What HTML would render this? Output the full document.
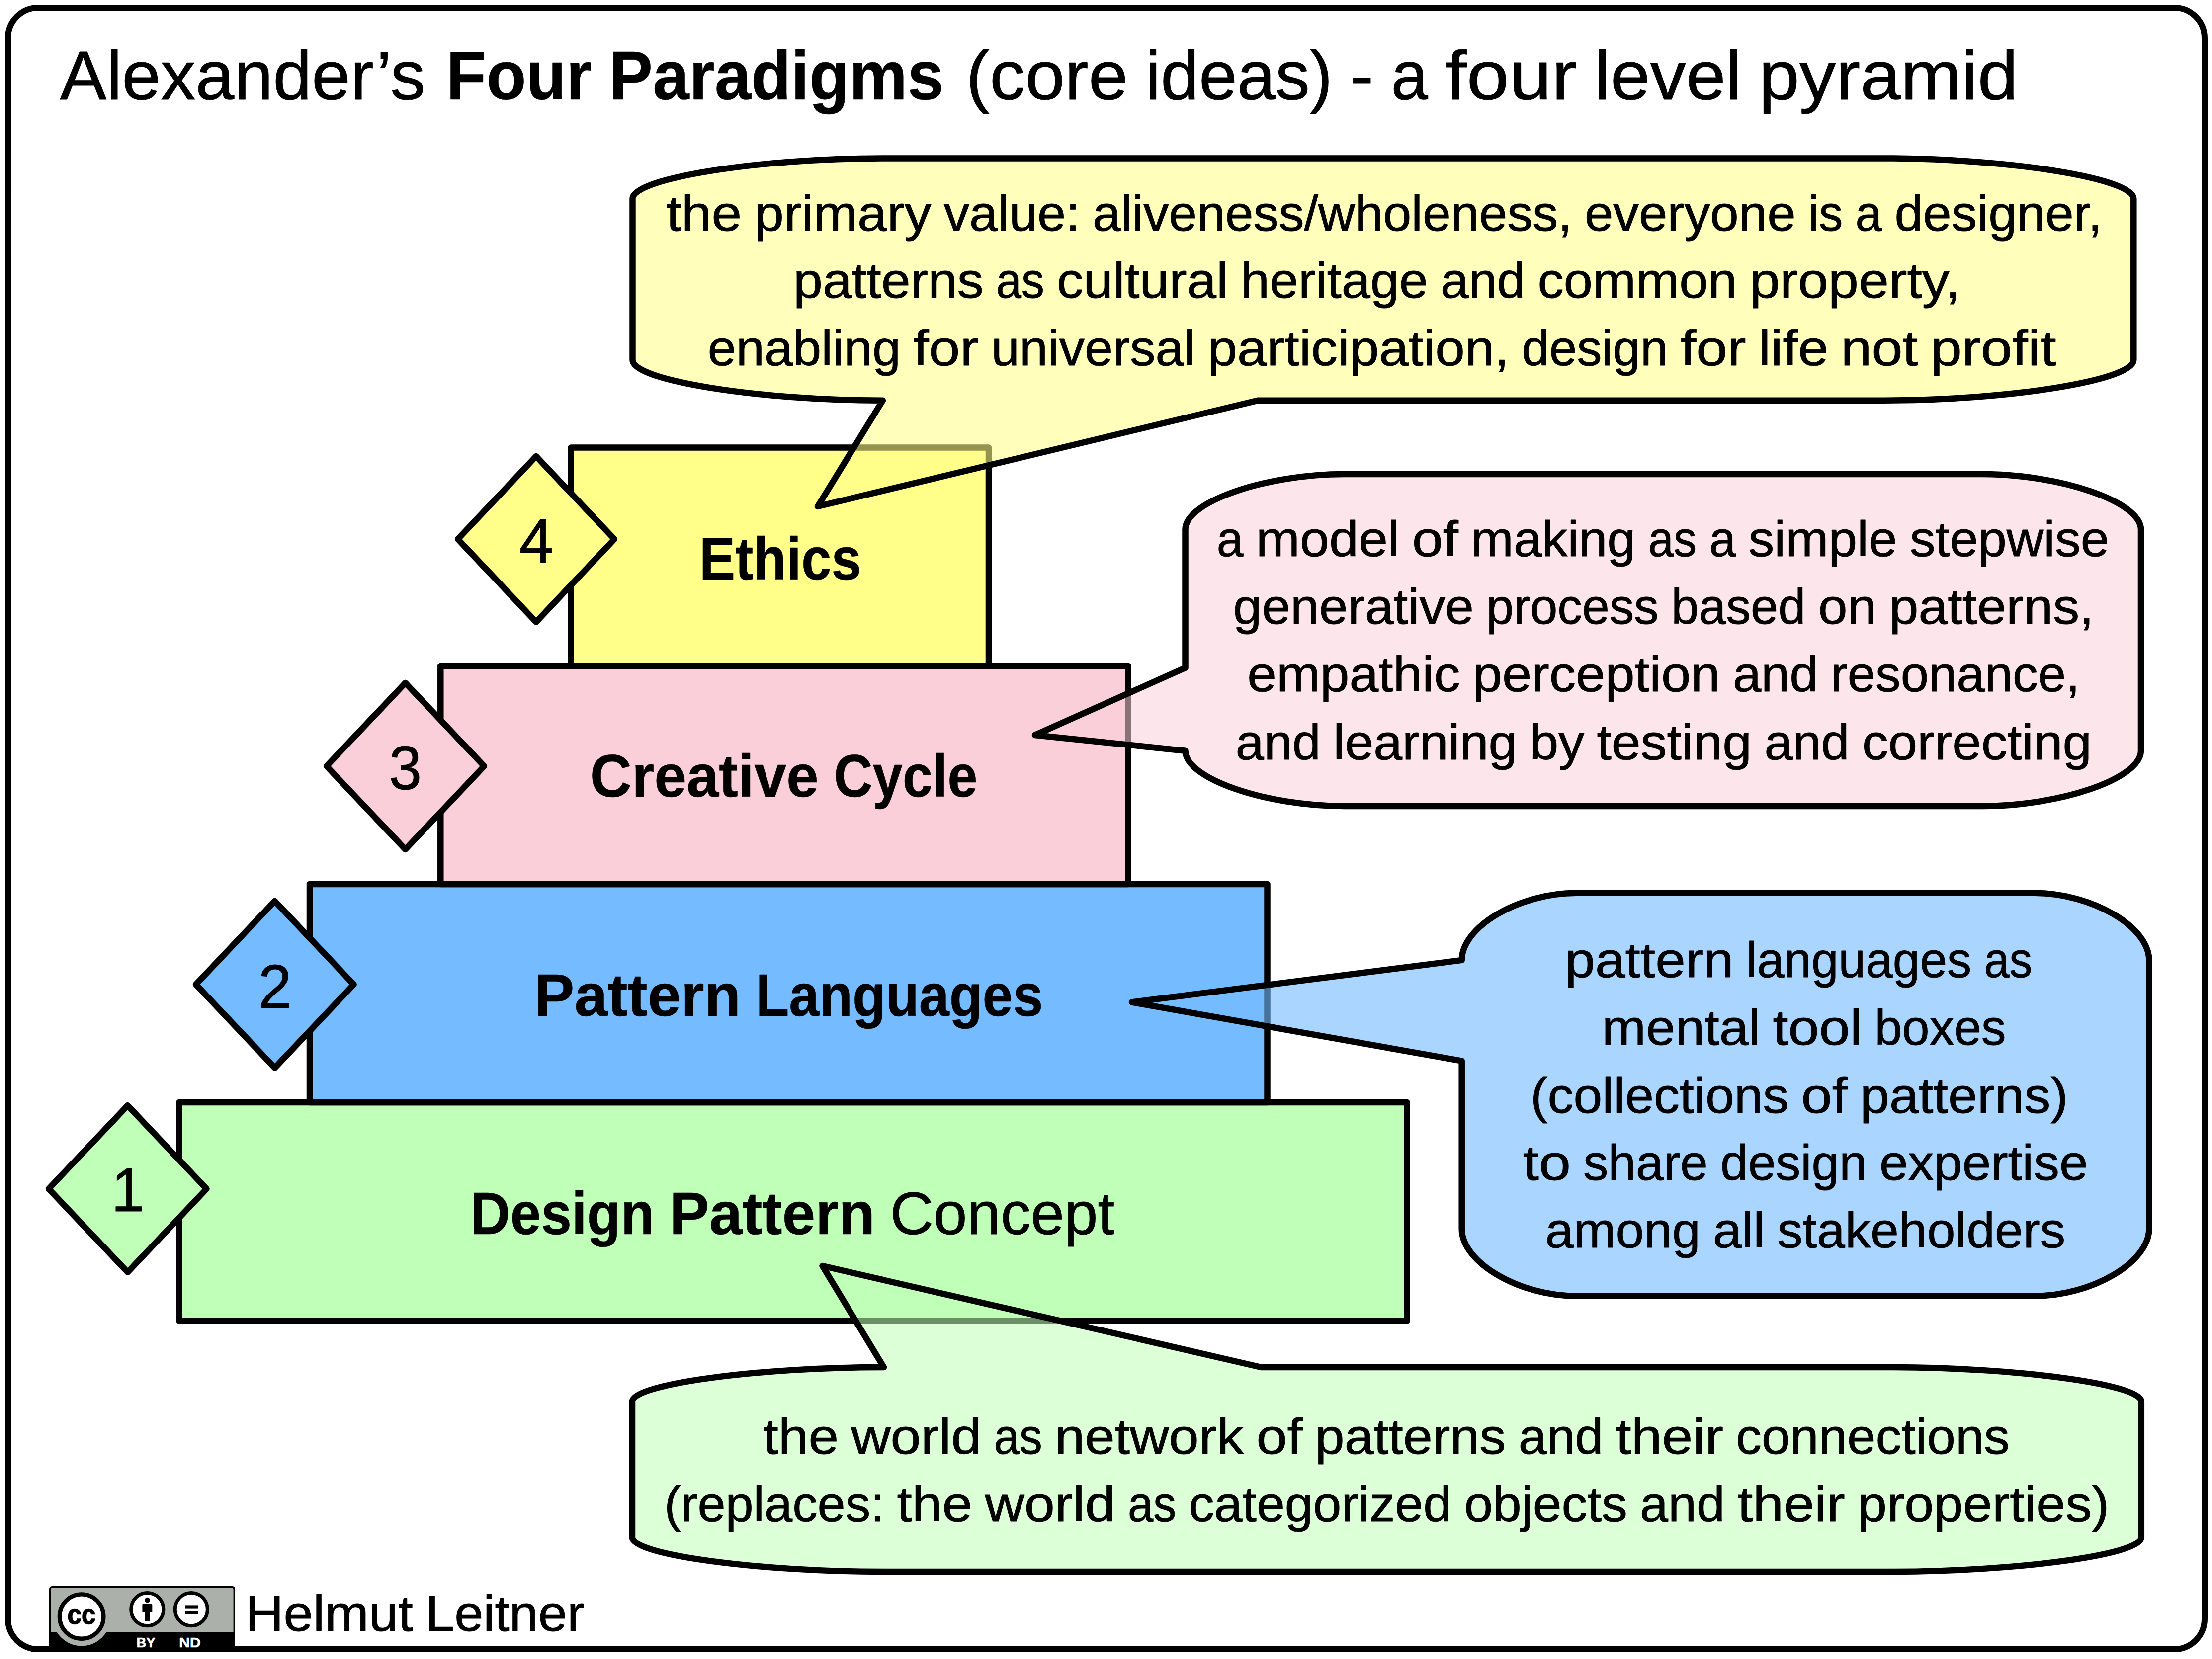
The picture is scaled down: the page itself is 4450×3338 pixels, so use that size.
<!DOCTYPE html>
<html lang="en"><head><meta charset="utf-8"><title>Alexander's Four Paradigms</title>
<style>
html,body{margin:0;padding:0;background:#fff;width:4450px;height:3338px;overflow:hidden}
svg{display:block}
text{font-family:"Liberation Sans",sans-serif;fill:#000;white-space:pre;stroke:#000;stroke-width:1px;stroke-linejoin:round}
.b{font-weight:bold;stroke-width:0.6px}
.s{stroke:#000;stroke-width:12.5;stroke-linejoin:round}
</style></head><body>
<svg width="4450" height="3338" viewBox="0 0 4450 3338">
<rect x="0" y="0" width="4450" height="3338" fill="#fff"/>

<rect x="16" y="16" width="4419" height="3302" rx="61" ry="61" fill="none" stroke="#000" stroke-width="12"/>
<rect class="s" x="360.5" y="2218" width="2470.0" height="439.5" fill="#C0FFB8"/>
<rect class="s" x="623" y="1779" width="1926.5" height="439.0" fill="#74BBFF"/>
<rect class="s" x="886.3" y="1340" width="1383.3" height="439.0" fill="#FACFDA"/>
<rect class="s" x="1148.6" y="900.5" width="840.4" height="439.5" fill="#FFFF8A"/>
<path class="s" d="M921.0,1084.8 L1078.5,918.0 L1236.0,1084.8 L1078.5,1251.5 Z" fill="#FFFF8A"/>
<path class="s" d="M657.0,1541.5 L815.5,1374.0 L974.0,1541.5 L815.5,1709.0 Z" fill="#FACFDA"/>
<path class="s" d="M394.0,1980.8 L552.8,1813.0 L711.6,1980.8 L552.8,2148.6 Z" fill="#74BBFF"/>
<path class="s" d="M98.0,2392.0 L256.8,2224.2 L415.5,2392.0 L256.8,2559.8 Z" fill="#C0FFB8"/>
<path class="s" d="M1272.5,399.7 C1272.5,359.1 1524.2,318.5 1775.8,318.5 L3789.0,318.5 C4040.7,318.5 4292.3,359.1 4292.3,399.7 L4292.3,724.5 C4292.3,765.1 4040.7,805.7 3789.0,805.7 L2530.8,805.7 L1645.0,1019.0 L1775.8,805.7 L1775.8,805.7 C1524.2,805.7 1272.5,765.1 1272.5,724.5 Z" fill="#FFFF8A" fill-opacity="0.58"/>
<path class="s" d="M2384.5,1065.3 C2384.5,1009.7 2544.7,954.0 2704.9,954.0 L3986.6,954.0 C4146.8,954.0 4307.0,1009.7 4307.0,1065.3 L4307.0,1510.7 C4307.0,1566.3 4146.8,1622.0 3986.6,1622.0 L2704.9,1622.0 C2544.7,1622.0 2384.5,1566.3 2384.5,1510.7 L2384.5,1510.7 L2082.0,1479.0 L2384.5,1343.7 Z" fill="#FACFDA" fill-opacity="0.55"/>
<path class="s" d="M2940.7,1931.9 C2940.7,1864.4 3055.9,1796.8 3171.1,1796.8 L4092.9,1796.8 C4208.2,1796.8 4323.4,1864.4 4323.4,1931.9 L4323.4,2472.5 C4323.4,2540.1 4208.2,2607.7 4092.9,2607.7 L3171.1,2607.7 C3055.9,2607.7 2940.7,2540.1 2940.7,2472.5 L2940.7,2134.7 L2277.0,2016.5 L2940.7,1931.9 Z" fill="#74BBFF" fill-opacity="0.61"/>
<path class="s" d="M1272.0,2819.5 C1272.0,2785.2 1525.0,2751.0 1778.0,2751.0 L1778.0,2751.0 L1654.5,2547.0 L2536.9,2751.0 L3801.8,2751.0 C4054.8,2751.0 4307.8,2785.2 4307.8,2819.5 L4307.8,3093.5 C4307.8,3127.8 4054.8,3162.0 3801.8,3162.0 L1778.0,3162.0 C1525.0,3162.0 1272.0,3127.8 1272.0,3093.5 Z" fill="#C0FFB8" fill-opacity="0.56"/>
<text x="120.7" y="199.8" font-size="140" textLength="734.9" lengthAdjust="spacingAndGlyphs">Alexander’s</text>
<text class="b" x="897.7" y="199.8" font-size="140" textLength="292.6" lengthAdjust="spacingAndGlyphs">Four</text>
<text class="b" x="1225.3" y="199.8" font-size="140" textLength="673.4" lengthAdjust="spacingAndGlyphs">Paradigms</text>
<text x="1943.3" y="199.8" font-size="140" textLength="325.9" lengthAdjust="spacingAndGlyphs">(core</text>
<text x="2304.3" y="199.8" font-size="140" textLength="376.5" lengthAdjust="spacingAndGlyphs">ideas)</text>
<text x="2715.8" y="199.8" font-size="140" textLength="47.5" lengthAdjust="spacingAndGlyphs">-</text>
<text x="2798.4" y="199.8" font-size="140" textLength="74.3" lengthAdjust="spacingAndGlyphs">a</text>
<text x="2907.9" y="199.8" font-size="140" textLength="264.8" lengthAdjust="spacingAndGlyphs">four</text>
<text x="3207.8" y="199.8" font-size="140" textLength="295.8" lengthAdjust="spacingAndGlyphs">level</text>
<text x="3538.6" y="199.8" font-size="140" textLength="521.4" lengthAdjust="spacingAndGlyphs">pyramid</text>
<text class="b" x="1406.8" y="1165.5" font-size="121" textLength="326.1" lengthAdjust="spacingAndGlyphs">Ethics</text>
<text class="b" x="1186.7" y="1602.8" font-size="121" textLength="460.3" lengthAdjust="spacingAndGlyphs">Creative</text>
<text class="b" x="1677.2" y="1602.8" font-size="121" textLength="289.5" lengthAdjust="spacingAndGlyphs">Cycle</text>
<text class="b" x="1075.0" y="2044.1" font-size="121" textLength="415.3" lengthAdjust="spacingAndGlyphs">Pattern</text>
<text class="b" x="1520.4" y="2044.1" font-size="121" textLength="578.0" lengthAdjust="spacingAndGlyphs">Languages</text>
<text class="b" x="946.2" y="2482.8" font-size="121" textLength="370.4" lengthAdjust="spacingAndGlyphs">Design</text>
<text class="b" x="1346.7" y="2482.8" font-size="121" textLength="413.8" lengthAdjust="spacingAndGlyphs">Pattern</text>
<text x="1790.4" y="2482.8" font-size="121" textLength="451.8" lengthAdjust="spacingAndGlyphs">Concept</text>
<text x="1340.5" y="463.8" font-size="100" textLength="151.8" lengthAdjust="spacingAndGlyphs">the</text>
<text x="1517.6" y="463.8" font-size="100" textLength="355.8" lengthAdjust="spacingAndGlyphs">primary</text>
<text x="1898.7" y="463.8" font-size="100" textLength="274.0" lengthAdjust="spacingAndGlyphs">value:</text>
<text x="2198.0" y="463.8" font-size="100" textLength="964.7" lengthAdjust="spacingAndGlyphs">aliveness/wholeness,</text>
<text x="3187.9" y="463.8" font-size="100" textLength="424.7" lengthAdjust="spacingAndGlyphs">everyone</text>
<text x="3637.9" y="463.8" font-size="100" textLength="69.4" lengthAdjust="spacingAndGlyphs">is</text>
<text x="3732.6" y="463.8" font-size="100" textLength="53.6" lengthAdjust="spacingAndGlyphs">a</text>
<text x="3811.4" y="463.8" font-size="100" textLength="417.6" lengthAdjust="spacingAndGlyphs">designer,</text>
<text x="1596.0" y="599.3" font-size="100" textLength="382.8" lengthAdjust="spacingAndGlyphs">patterns</text>
<text x="2004.0" y="599.3" font-size="100" textLength="96.9" lengthAdjust="spacingAndGlyphs">as</text>
<text x="2126.1" y="599.3" font-size="100" textLength="344.7" lengthAdjust="spacingAndGlyphs">cultural</text>
<text x="2496.0" y="599.3" font-size="100" textLength="376.8" lengthAdjust="spacingAndGlyphs">heritage</text>
<text x="2898.0" y="599.3" font-size="100" textLength="170.4" lengthAdjust="spacingAndGlyphs">and</text>
<text x="3093.5" y="599.3" font-size="100" textLength="401.0" lengthAdjust="spacingAndGlyphs">common</text>
<text x="3519.7" y="599.3" font-size="100" textLength="424.3" lengthAdjust="spacingAndGlyphs">property,</text>
<text x="1423.7" y="735.0" font-size="100" textLength="388.3" lengthAdjust="spacingAndGlyphs">enabling</text>
<text x="1837.2" y="735.0" font-size="100" textLength="131.7" lengthAdjust="spacingAndGlyphs">for</text>
<text x="1994.1" y="735.0" font-size="100" textLength="410.1" lengthAdjust="spacingAndGlyphs">universal</text>
<text x="2429.4" y="735.0" font-size="100" textLength="606.7" lengthAdjust="spacingAndGlyphs">participation,</text>
<text x="3061.3" y="735.0" font-size="100" textLength="294.3" lengthAdjust="spacingAndGlyphs">design</text>
<text x="3380.8" y="735.0" font-size="100" textLength="131.7" lengthAdjust="spacingAndGlyphs">for</text>
<text x="3537.7" y="735.0" font-size="100" textLength="140.7" lengthAdjust="spacingAndGlyphs">life</text>
<text x="3703.6" y="735.0" font-size="100" textLength="154.7" lengthAdjust="spacingAndGlyphs">not</text>
<text x="3883.5" y="735.0" font-size="100" textLength="253.2" lengthAdjust="spacingAndGlyphs">profit</text>
<text x="2447.7" y="1119.3" font-size="100" textLength="53.6" lengthAdjust="spacingAndGlyphs">a</text>
<text x="2526.7" y="1119.3" font-size="100" textLength="288.7" lengthAdjust="spacingAndGlyphs">model</text>
<text x="2840.7" y="1119.3" font-size="100" textLength="93.2" lengthAdjust="spacingAndGlyphs">of</text>
<text x="2959.3" y="1119.3" font-size="100" textLength="331.2" lengthAdjust="spacingAndGlyphs">making</text>
<text x="3315.8" y="1119.3" font-size="100" textLength="97.4" lengthAdjust="spacingAndGlyphs">as</text>
<text x="3438.5" y="1119.3" font-size="100" textLength="53.6" lengthAdjust="spacingAndGlyphs">a</text>
<text x="3517.5" y="1119.3" font-size="100" textLength="299.2" lengthAdjust="spacingAndGlyphs">simple</text>
<text x="3842.0" y="1119.3" font-size="100" textLength="401.1" lengthAdjust="spacingAndGlyphs">stepwise</text>
<text x="2480.8" y="1255.3" font-size="100" textLength="484.1" lengthAdjust="spacingAndGlyphs">generative</text>
<text x="2990.1" y="1255.3" font-size="100" textLength="346.8" lengthAdjust="spacingAndGlyphs">process</text>
<text x="3362.2" y="1255.3" font-size="100" textLength="270.2" lengthAdjust="spacingAndGlyphs">based</text>
<text x="3657.7" y="1255.3" font-size="100" textLength="117.6" lengthAdjust="spacingAndGlyphs">on</text>
<text x="3800.6" y="1255.3" font-size="100" textLength="411.9" lengthAdjust="spacingAndGlyphs">patterns,</text>
<text x="2509.3" y="1391.1" font-size="100" textLength="428.1" lengthAdjust="spacingAndGlyphs">empathic</text>
<text x="2962.7" y="1391.1" font-size="100" textLength="497.8" lengthAdjust="spacingAndGlyphs">perception</text>
<text x="3485.9" y="1391.1" font-size="100" textLength="171.7" lengthAdjust="spacingAndGlyphs">and</text>
<text x="3683.0" y="1391.1" font-size="100" textLength="501.1" lengthAdjust="spacingAndGlyphs">resonance,</text>
<text x="2485.7" y="1527.8" font-size="100" textLength="171.2" lengthAdjust="spacingAndGlyphs">and</text>
<text x="2682.3" y="1527.8" font-size="100" textLength="370.0" lengthAdjust="spacingAndGlyphs">learning</text>
<text x="3077.6" y="1527.8" font-size="100" textLength="109.5" lengthAdjust="spacingAndGlyphs">by</text>
<text x="3212.4" y="1527.8" font-size="100" textLength="311.7" lengthAdjust="spacingAndGlyphs">testing</text>
<text x="3549.4" y="1527.8" font-size="100" textLength="171.2" lengthAdjust="spacingAndGlyphs">and</text>
<text x="3745.9" y="1527.8" font-size="100" textLength="462.1" lengthAdjust="spacingAndGlyphs">correcting</text>
<text x="3148.3" y="1966.1" font-size="100" textLength="339.4" lengthAdjust="spacingAndGlyphs">pattern</text>
<text x="3512.9" y="1966.1" font-size="100" textLength="453.3" lengthAdjust="spacingAndGlyphs">languages</text>
<text x="3991.4" y="1966.1" font-size="100" textLength="96.9" lengthAdjust="spacingAndGlyphs">as</text>
<text x="3222.8" y="2102.3" font-size="100" textLength="318.6" lengthAdjust="spacingAndGlyphs">mental</text>
<text x="3566.5" y="2102.3" font-size="100" textLength="180.0" lengthAdjust="spacingAndGlyphs">tool</text>
<text x="3771.6" y="2102.3" font-size="100" textLength="264.0" lengthAdjust="spacingAndGlyphs">boxes</text>
<text x="3079.0" y="2238.6" font-size="100" textLength="519.3" lengthAdjust="spacingAndGlyphs">(collections</text>
<text x="3623.6" y="2238.6" font-size="100" textLength="93.2" lengthAdjust="spacingAndGlyphs">of</text>
<text x="3742.0" y="2238.6" font-size="100" textLength="418.5" lengthAdjust="spacingAndGlyphs">patterns)</text>
<text x="3063.8" y="2373.9" font-size="100" textLength="96.3" lengthAdjust="spacingAndGlyphs">to</text>
<text x="3185.3" y="2373.9" font-size="100" textLength="250.4" lengthAdjust="spacingAndGlyphs">share</text>
<text x="3461.0" y="2373.9" font-size="100" textLength="294.8" lengthAdjust="spacingAndGlyphs">design</text>
<text x="3781.0" y="2373.9" font-size="100" textLength="419.4" lengthAdjust="spacingAndGlyphs">expertise</text>
<text x="3108.7" y="2510.2" font-size="100" textLength="312.0" lengthAdjust="spacingAndGlyphs">among</text>
<text x="3445.9" y="2510.2" font-size="100" textLength="104.5" lengthAdjust="spacingAndGlyphs">all</text>
<text x="3575.6" y="2510.2" font-size="100" textLength="579.4" lengthAdjust="spacingAndGlyphs">stakeholders</text>
<text x="1535.5" y="2924.8" font-size="100" textLength="151.7" lengthAdjust="spacingAndGlyphs">the</text>
<text x="1712.4" y="2924.8" font-size="100" textLength="262.0" lengthAdjust="spacingAndGlyphs">world</text>
<text x="1999.6" y="2924.8" font-size="100" textLength="97.2" lengthAdjust="spacingAndGlyphs">as</text>
<text x="2122.0" y="2924.8" font-size="100" textLength="380.1" lengthAdjust="spacingAndGlyphs">network</text>
<text x="2527.4" y="2924.8" font-size="100" textLength="93.0" lengthAdjust="spacingAndGlyphs">of</text>
<text x="2645.6" y="2924.8" font-size="100" textLength="383.9" lengthAdjust="spacingAndGlyphs">patterns</text>
<text x="3054.7" y="2924.8" font-size="100" textLength="170.9" lengthAdjust="spacingAndGlyphs">and</text>
<text x="3250.8" y="2924.8" font-size="100" textLength="216.2" lengthAdjust="spacingAndGlyphs">their</text>
<text x="3492.3" y="2924.8" font-size="100" textLength="550.6" lengthAdjust="spacingAndGlyphs">connections</text>
<text x="1336.2" y="3061.1" font-size="100" textLength="443.0" lengthAdjust="spacingAndGlyphs">(replaces:</text>
<text x="1804.4" y="3061.1" font-size="100" textLength="151.8" lengthAdjust="spacingAndGlyphs">the</text>
<text x="1981.5" y="3061.1" font-size="100" textLength="262.2" lengthAdjust="spacingAndGlyphs">world</text>
<text x="2269.0" y="3061.1" font-size="100" textLength="97.3" lengthAdjust="spacingAndGlyphs">as</text>
<text x="2391.5" y="3061.1" font-size="100" textLength="528.6" lengthAdjust="spacingAndGlyphs">categorized</text>
<text x="2945.4" y="3061.1" font-size="100" textLength="328.5" lengthAdjust="spacingAndGlyphs">objects</text>
<text x="3299.1" y="3061.1" font-size="100" textLength="171.0" lengthAdjust="spacingAndGlyphs">and</text>
<text x="3495.4" y="3061.1" font-size="100" textLength="216.4" lengthAdjust="spacingAndGlyphs">their</text>
<text x="3737.1" y="3061.1" font-size="100" textLength="506.3" lengthAdjust="spacingAndGlyphs">properties)</text>
<text x="493.7" y="3281.3" font-size="100" textLength="337.0" lengthAdjust="spacingAndGlyphs">Helmut</text>
<text x="856.1" y="3281.3" font-size="100" textLength="319.6" lengthAdjust="spacingAndGlyphs">Leitner</text>
<text x="1044.8" y="1130.8" font-size="125" textLength="68.6" lengthAdjust="spacingAndGlyphs">4</text>
<text x="782.5" y="1587.8" font-size="125" textLength="65.7" lengthAdjust="spacingAndGlyphs">3</text>
<text x="519.4" y="2027.5" font-size="125" textLength="67.5" lengthAdjust="spacingAndGlyphs">2</text>
<text x="223.7" y="2437.2" font-size="125" textLength="67.2" lengthAdjust="spacingAndGlyphs">1</text>
<g id="ccbadge">
<path d="M99,3324 L99,3198 Q99,3192 105,3192 L467,3192 Q473,3192 473,3198 L473,3324 Z" fill="#000"/>
<path d="M102.4,3283.2 L102.4,3199 Q102.4,3195.3 106,3195.3 L466,3195.3 Q469.6,3195.3 469.6,3199 L469.6,3283.2 Z" fill="#ABB1AA"/>
<clipPath id="hc"><rect x="99" y="3283" width="200" height="41"/></clipPath>
<circle cx="164.1" cy="3253.2" r="58.2" fill="#ABB1AA" clip-path="url(#hc)"/>
<circle cx="164.1" cy="3252.6" r="44.2" fill="#fff" stroke="#000" stroke-width="8.4"/>
<text class="b" x="135.6" y="3267" font-size="55.5" textLength="56.8" lengthAdjust="spacingAndGlyphs" style="stroke:#000;stroke-width:1.6px">cc</text>
<circle cx="296.3" cy="3238.2" r="32.6" fill="#fff" stroke="#000" stroke-width="7"/>
<circle cx="384.8" cy="3238.2" r="32.6" fill="#fff" stroke="#000" stroke-width="7"/>
<circle cx="296.5" cy="3220" r="5.2" fill="#000"/>
<path d="M286.4,3244 L286.4,3229.5 Q286.4,3227 289,3227 L303.7,3227 Q306.3,3227 306.3,3229.5 L306.3,3244 L301.8,3244 L301.8,3261.1 L291.1,3261.1 L291.1,3244 Z" fill="#000"/>
<rect x="372" y="3230.4" width="27" height="6.2" fill="#000"/>
<rect x="372" y="3241.2" width="27" height="6.2" fill="#000"/>
<text class="b" x="274.5" y="3313.7" font-size="26.8" textLength="38" lengthAdjust="spacingAndGlyphs" style="fill:#fff;stroke:#fff;stroke-width:0.7px">BY</text>
<text class="b" x="360.3" y="3313.7" font-size="26.8" textLength="43.5" lengthAdjust="spacingAndGlyphs" style="fill:#fff;stroke:#fff;stroke-width:0.7px">ND</text>
</g>

</svg></body></html>
